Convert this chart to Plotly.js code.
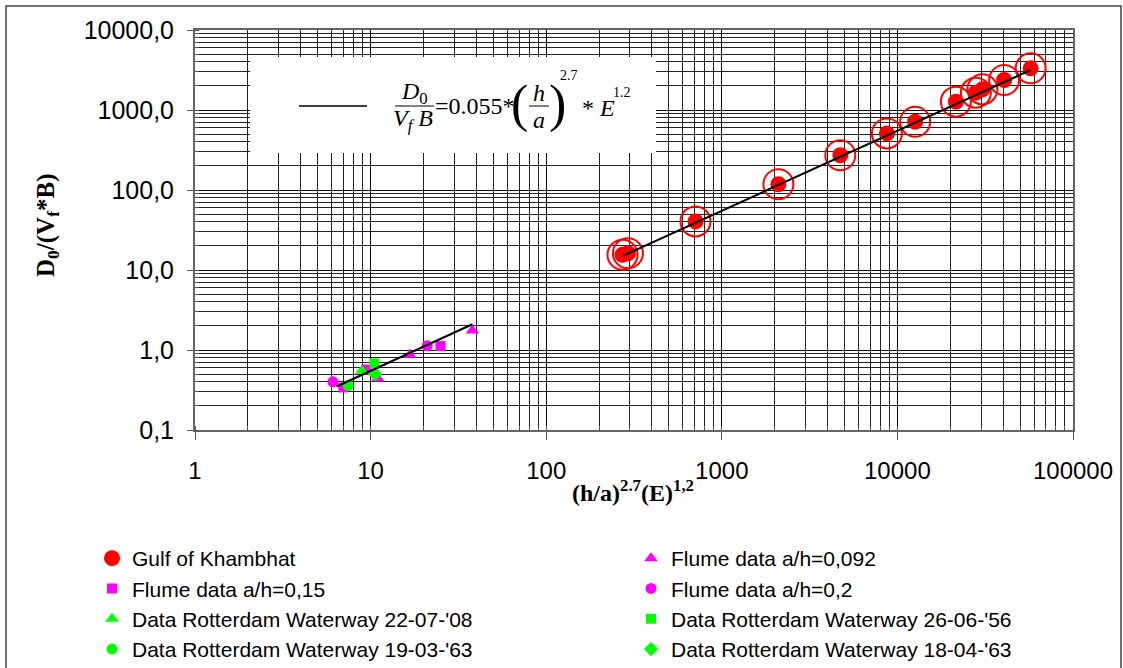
<!DOCTYPE html>
<html>
<head>
<meta charset="utf-8">
<script src="https://cdn.plot.ly/plotly-3.0.1.min.js"></script>
<style>html,body{margin:0;padding:0;background:#fff;}#chart{width:1123px;height:668px;}</style>
</head>
<body>
<div id="chart"></div>
<script>
// ---- data ----
const gulfX = [272, 292, 708, 2100, 4730, 8710, 12620, 21530, 27980, 30490, 40550, 57400];
const gulfY = [15.5, 16.2, 40.5, 118, 272, 509, 713, 1271, 1648, 1811, 2371, 3320];

const flume092X = [11.0, 16.7, 38];
const flume092Y = [0.44, 0.87, 1.75];
const flume015X = [7.0, 9.5, 25];
const flume015Y = [0.34, 0.57, 1.12];
const flume02X = [6.1, 21];
const flume02Y = [0.40, 1.13];

const rw080722X = [8.9];   const rw080722Y = [0.55];
const rw560626X = [10.5];  const rw560626Y = [0.68];
const rw630319X = [7.45];  const rw630319Y = [0.36];
const rw630418X = [10.6];  const rw630418Y = [0.50];

// fitted line D0/(Vf B) = 0.055*(h/a)^2.7*E^1.2, end points
const fitLowX = [6.4, 38];    const fitLowY = [0.35, 2.1];
const fitHighX = [273, 57400]; const fitHighY = [15.0, 3160];

const names = {
  gulf: "Gulf of Khambhat",
  f092: "Flume data a/h=0,092",
  f015: "Flume data a/h=0,15",
  f02: "Flume data a/h=0,2",
  rw1: "Data Rotterdam Waterway 22-07-'08",
  rw2: "Data Rotterdam Waterway 26-06-'56",
  rw3: "Data Rotterdam Waterway 19-03-'63",
  rw4: "Data Rotterdam Waterway 18-04-'63"
};

const MAG = '#FF00FF', GRN = '#00FF00', RED = '#FF0000';

function pt(x, y, name, color, symbol, size, legend, group) {
  return {x: x, y: y, type: 'scatter', mode: 'markers', name: name,
    marker: {color: color, symbol: symbol, size: size, line: {width: 0}},
    legend: legend, legendgroup: group, showlegend: true};
}

const traces = [
  {x: gulfX, y: gulfY, type: 'scatter', mode: 'markers', showlegend: false, hoverinfo: 'skip',
   marker: {symbol: 'circle-open', size: 30, color: RED, line: {color: RED, width: 2}}},
  pt(gulfX, gulfY, names.gulf, RED, 'circle', 16, 'legend', 'g1'),
  pt(flume015X, flume015Y, names.f015, MAG, 'square', 10, 'legend', 'g2'),
  pt(rw080722X, rw080722Y, names.rw1, GRN, 'triangle-up', 12, 'legend', 'g3'),
  pt(rw630319X, rw630319Y, names.rw3, GRN, 'circle', 11, 'legend', 'g4'),
  pt(flume092X, flume092Y, names.f092, MAG, 'triangle-up', 12, 'legend2', 'h1'),
  pt(flume02X, flume02Y, names.f02, MAG, 'circle', 11, 'legend2', 'h2'),
  pt(rw560626X, rw560626Y, names.rw2, GRN, 'square', 10, 'legend2', 'h3'),
  pt(rw630418X, rw630418Y, names.rw4, GRN, 'diamond', 11, 'legend2', 'h4'),
  {x: fitLowX, y: fitLowY, type: 'scatter', mode: 'lines', showlegend: false, line: {color: '#000', width: 2}},
  {x: fitHighX, y: fitHighY, type: 'scatter', mode: 'lines', showlegend: false, line: {color: '#000', width: 2}}
];

// plot-area pixel helpers (plot area: x 195..1073, y 30..430)
const L = 195, R = 1073, T = 30, B = 430;
const px = v => (v - L) / (R - L);
const py = v => (B - v) / (B - T);

const serif = 'Liberation Serif, Times New Roman, serif';
const sans = 'Liberation Sans, Arial, sans-serif';

function ann(x, y, text, size, extra) {
  return Object.assign({xref: 'paper', yref: 'paper', x: px(x), y: py(y), text: text,
    showarrow: false, xanchor: 'center', yanchor: 'middle',
    font: {family: serif, size: size, color: '#000'}}, extra || {});
}

const legendCommon = {
  orientation: 'v', bgcolor: 'rgba(0,0,0,0)', borderwidth: 0,
  font: {family: sans, size: 21, color: '#000'}, tracegroupgap: 0,
  xanchor: 'left', yanchor: 'top', itemclick: false
};

const layout = {
  width: 1123, height: 668,
  margin: {l: L, r: 1123 - R, t: T, b: 668 - B, autoexpand: false},
  paper_bgcolor: '#fff', plot_bgcolor: '#fff',
  separators: ',.',
  font: {family: sans, color: '#000'},
  xaxis: {
    type: 'log', range: [0, 5], dtick: 1, tickformat: 'd', automargin: false,
    tickfont: {family: sans, size: 24, color: '#000'},
    ticks: 'outside', ticklen: 8, tickcolor: '#555', tickwidth: 1,
    ticklabelstandoff: 10,
    showline: true, linecolor: '#666', linewidth: 2, mirror: true,
    showgrid: true, gridcolor: '#000', gridwidth: 1,
    minor: {dtick: 'D1', showgrid: true, gridcolor: '#222', gridwidth: 1, ticks: 'inside', ticklen: 4, tickcolor: '#555'},
    zeroline: false
  },
  yaxis: {
    type: 'log', range: [-1, 4], dtick: 1, tickformat: '.1f', automargin: false,
    tickfont: {family: sans, size: 25, color: '#000'},
    ticks: 'outside', ticklen: 6, tickcolor: '#555', tickwidth: 1,
    ticklabelstandoff: 8,
    showline: true, linecolor: '#666', linewidth: 2, mirror: true,
    showgrid: true, gridcolor: '#000', gridwidth: 1,
    minor: {dtick: 'D1', showgrid: true, gridcolor: '#222', gridwidth: 1, ticks: 'inside', ticklen: 4, tickcolor: '#555'},
    zeroline: false
  },
  legend: Object.assign({}, legendCommon, {x: px(92), y: py(538)}),
  legend2: Object.assign({}, legendCommon, {x: px(631), y: py(538)}),
  shapes: [
    // outer frame
    {type: 'rect', xref: 'paper', yref: 'paper', x0: px(6), x1: px(1121), y0: py(672), y1: py(6),
     line: {color: '#444', width: 1.5}, fillcolor: 'rgba(0,0,0,0)', layer: 'above'},
    // equation box
    {type: 'rect', xref: 'paper', yref: 'paper', x0: px(250), x1: px(656), y0: py(153), y1: py(57),
     line: {width: 0}, fillcolor: '#fff', layer: 'above'},
    // legend line sample
    {type: 'line', xref: 'paper', yref: 'paper', x0: px(299), x1: px(367), y0: py(106), y1: py(106),
     line: {color: '#000', width: 1.5}, layer: 'above'},
    // fraction bars
    {type: 'line', xref: 'paper', yref: 'paper', x0: px(395), x1: px(434), y0: py(106), y1: py(106),
     line: {color: '#000', width: 1}, layer: 'above'},
    {type: 'line', xref: 'paper', yref: 'paper', x0: px(529), x1: px(549), y0: py(106), y1: py(106),
     line: {color: '#000', width: 1}, layer: 'above'}
  ],
  annotations: [
    ann(414, 93, '<i>D</i><sub>0</sub>', 24),
    ann(413, 120, '<i>V<sub>f</sub> B</i>', 24),
    ann(475, 106, '=0.055*', 24),
    ann(519, 104, '(', 52),
    ann(539, 93, '<i>h</i>', 24),
    ann(539, 120, '<i>a</i>', 24),
    ann(557, 104, ')', 52),
    ann(569, 75, '2.7', 14),
    ann(598, 108, '* <i>E</i>', 24),
    ann(622, 92, '1.2', 14),
    // axis titles
    ann(633, 491, '<b>(h/a)<sup>2.7</sup>(E)<sup>1,2</sup></b>', 24),
    ann(47, 226, '<b>D<sub>0</sub>/(V<sub>f</sub>*B)</b>', 25, {textangle: -90})
  ]
};

Plotly.newPlot('chart', traces, layout, {staticPlot: true, displayModeBar: false});
</script>
</body>
</html>
